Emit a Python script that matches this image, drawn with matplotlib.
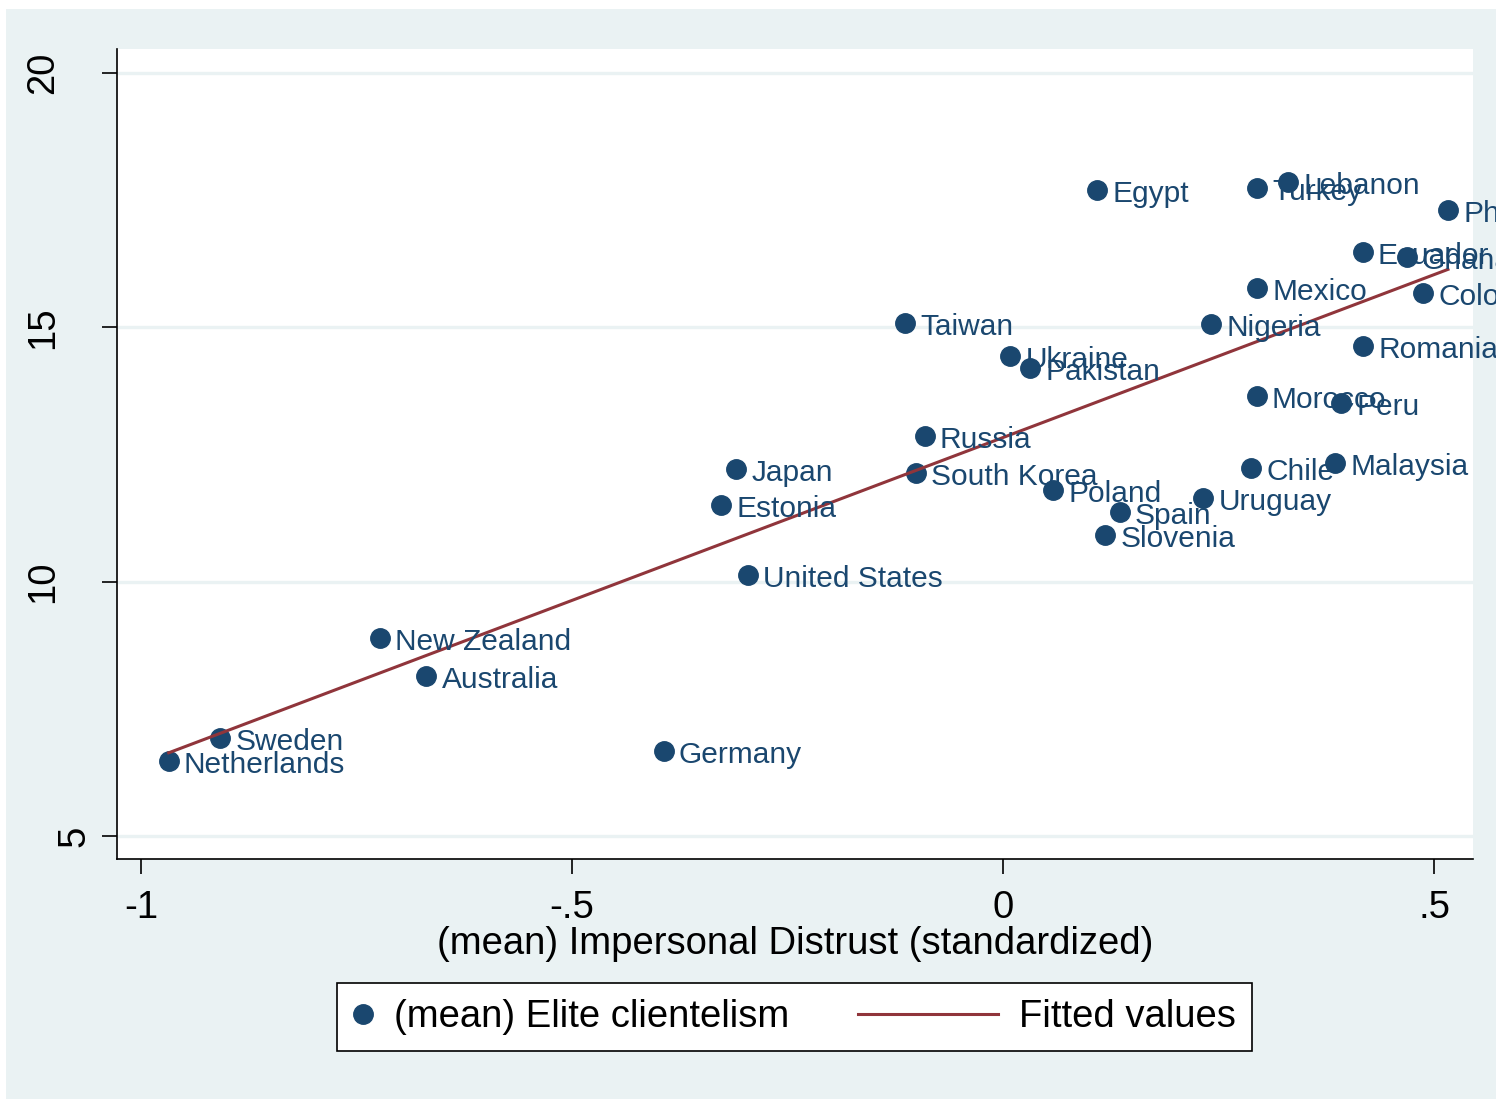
import numpy as np
import matplotlib
matplotlib.use("Agg")
import matplotlib.pyplot as plt
from matplotlib.patches import Rectangle
from matplotlib.legend_handler import HandlerLine2D
from matplotlib.transforms import ScaledTranslation

plt.rcParams["font.family"] = ["Liberation Sans", "DejaVu Sans"]

# ==========================
# DATA (country means)
# ==========================
countries = [
    "Netherlands", "Sweden", "New Zealand", "Australia", "Germany",
    "United States", "Japan", "Estonia", "Russia", "South Korea",
    "Taiwan", "Ukraine", "Pakistan", "Egypt", "Poland",
    "Spain", "Slovenia", "Uruguay", "Chile", "Malaysia",
    "Nigeria", "Mexico", "Morocco", "Peru", "Romania",
    "Ecuador", "Ghana", "Colombia", "Philippines", "Turkey",
    "Lebanon",
]
distrust = [
    -0.968, -0.908, -0.723, -0.669, -0.394,
    -0.296, -0.310, -0.327, -0.091, -0.101,
    -0.114, 0.008, 0.031, 0.109, 0.058,
    0.135, 0.118, 0.232, 0.288, 0.385,
    0.241, 0.295, 0.294, 0.392, 0.418,
    0.417, 0.468, 0.487, 0.516, 0.295,
    0.331,
]
clientelism = [
    6.48, 6.93, 8.89, 8.15, 6.67,
    10.13, 12.22, 11.51, 12.86, 12.14,
    15.09, 14.44, 14.20, 17.70, 11.80,
    11.37, 10.92, 11.65, 12.24, 12.33,
    15.07, 15.77, 13.65, 13.51, 14.63,
    16.48, 16.38, 15.68, 17.31, 17.74,
    17.86,
]

x_ticks = [-1, -0.5, 0, 0.5]
x_tick_labels = ["-1", "-.5", "0", ".5"]
y_ticks = [5, 10, 15, 20]

NAVY = "#1a476f"
MAROON = "#90353b"
BG = "#eaf2f3"

# ==========================
# FIGURE
# ==========================
fig = plt.figure(figsize=(14.96, 10.99), dpi=100, facecolor="white")
fig.patches.append(Rectangle((0.004, 0), 0.996, 0.9918, transform=fig.transFigure,
                             facecolor=BG, edgecolor="none", zorder=-10))

ax = fig.add_axes([0.0782, 0.2184, 0.9064, 0.7370])
ax.set_facecolor("white")

x = np.array(distrust)
y = np.array(clientelism)

# linear fit of clientelism on distrust
slope, intercept = np.polyfit(x, y, 1)
xfit = np.array([x.min(), x.max()])
yfit = intercept + slope * xfit

pts, = ax.plot(x, y, "o", color=NAVY, markersize=14, linestyle="none",
               zorder=3, label="(mean) Elite clientelism")
fitline, = ax.plot(xfit, yfit, color=MAROON, lw=2.2, zorder=4, label="Fitted values")

# country names to the right of each marker, running past the plot edge
for name, xi, yi in zip(countries, distrust, clientelism):
    ax.annotate(name, (xi, yi), xytext=(11, -8.7), textcoords="offset points",
                ha="left", va="baseline", fontsize=21.5, color=NAVY,
                annotation_clip=False, zorder=5)

ax.set_xlim(-1.028, 0.545)
ax.set_ylim(4.548, 20.47)

ax.set_xticks(x_ticks)
ax.set_xticklabels(x_tick_labels)
ax.set_yticks(y_ticks)
ax.set_yticklabels([str(v) for v in y_ticks], rotation=90, va="center")

ax.tick_params(axis="both", direction="out", length=11, width=1.2,
               labelsize=27.5, color="black")
ax.tick_params(axis="y", pad=29)
ax.tick_params(axis="x", pad=11)

# the single-digit label sits closer to the axis
lab5 = ax.get_yticklabels()[0]
lab5.set_transform(lab5.get_transform() + ScaledTranslation(0.31, 0, fig.dpi_scale_trans))

ax.grid(axis="y", color=BG, lw=2.4, zorder=0)
ax.grid(axis="x", visible=False)
ax.set_axisbelow(True)

for side in ["top", "right"]:
    ax.spines[side].set_visible(False)
for side in ["left", "bottom"]:
    ax.spines[side].set_color("black")
    ax.spines[side].set_linewidth(1.2)

ax.set_xlabel("(mean) Impersonal Distrust (standardized)", fontsize=27.5, labelpad=0)

# ==========================
# LEGEND
# ==========================
leg = ax.legend(
    handles=[pts, fitline],
    loc="upper center",
    bbox_to_anchor=(0.531, 0.1056),
    bbox_transform=fig.transFigure,
    borderaxespad=0,
    ncol=2,
    fontsize=27.5,
    frameon=True,
    fancybox=False,
    framealpha=1,
    borderpad=0.42,
    handlelength=0.52,
    handletextpad=0.55,
    columnspacing=4.95,
    numpoints=1,
    handler_map={fitline: HandlerLine2D(xpad=-3.14)},
)
leg.get_frame().set_edgecolor("black")
leg.get_frame().set_linewidth(1.2)
leg.get_frame().set_facecolor("white")

fig.savefig("out.png", dpi=100, facecolor=fig.get_facecolor())
